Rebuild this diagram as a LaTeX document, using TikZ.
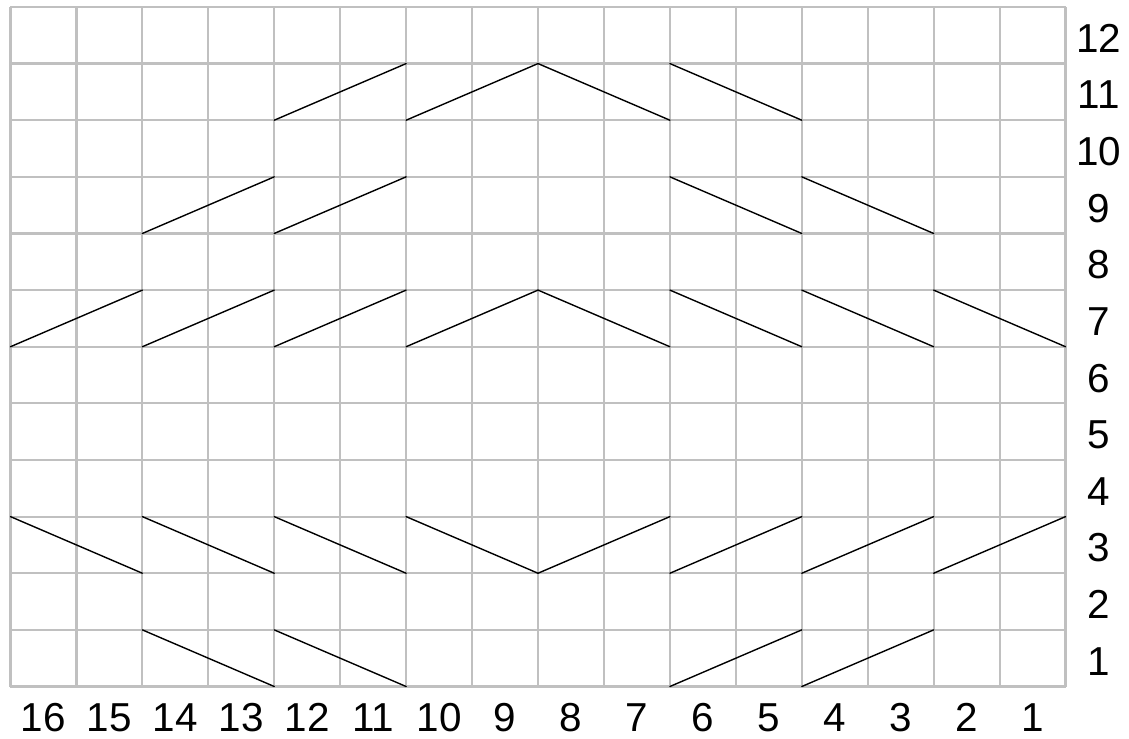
\documentclass[tikz,border=0pt]{standalone}
\usepackage{fontspec}
\setmainfont{Liberation Sans}
\definecolor{cinza}{RGB}{192,192,192}

\begin{document}
\begin{tikzpicture}[x=0.6594cm, y=0.5663cm,
	grade/.style={draw=cinza, line width=0.022cm},
	ponto/.style={draw=black, line width=0.014cm, line cap=round},
	rotulo/.style={font=\fontsize{11.5}{13}\selectfont, inner sep=0pt, anchor=base}]

	\useasboundingbox (-0.105cm,-0.515cm) rectangle (11.185cm,6.865cm);

% Grade
	\foreach \x in {0, 1, ..., 16}
		\draw[grade] (\x,0) -- (\x,12);

	\foreach \y in {0, 1, ..., 12}
		\draw[grade] (0,\y) -- (16,\y);

% Numeracao das colunas
	\foreach \x [count=\xi from 0] in {16, 15, ..., 1}
		\node[rotulo] (col\x) at (\xi+0.5,-0.8) {\x};

% Numeracao das carreiras
	\foreach \y in {1, 2, ..., 12}
		\node[rotulo] (car\y) at (16.5,\y-0.8) {\y};

% Diagonais subindo
	\foreach \a/\b in {4/10, 6/10, 2/8, 4/8, 0/6, 2/6, 4/6, 6/6,
			8/2, 10/2, 12/2, 14/2, 10/0, 12/0}
		\draw[ponto] (\a,\b) -- ++(2,1);

% Diagonais descendo
	\foreach \a/\b in {8/11, 10/11, 10/9, 12/9, 8/7, 10/7, 12/7, 14/7,
			0/3, 2/3, 4/3, 6/3, 2/1, 4/1}
		\draw[ponto] (\a,\b) -- ++(2,-1);

\end{tikzpicture}
\end{document}
